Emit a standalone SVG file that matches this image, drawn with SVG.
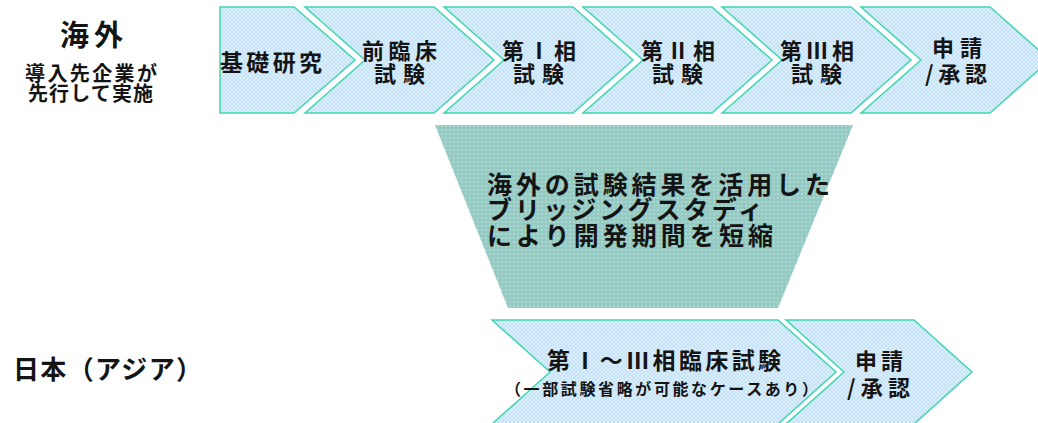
<svg xmlns="http://www.w3.org/2000/svg" width="1038" height="423" viewBox="0 0 1038 423">
<defs>
<pattern id="hatch" width="4" height="4" patternUnits="userSpaceOnUse">
<rect width="4" height="4" fill="#dcefff"/>
<path d="M0,0 L4,4 M4,0 L0,4" stroke="#b3d6f0" stroke-width="0.6"/>
</pattern>
<pattern id="dots" width="4" height="4" patternUnits="userSpaceOnUse">
<rect width="4" height="4" fill="#94c9c4"/>
<circle cx="2" cy="2" r="0.75" fill="#cdeed8"/>
</pattern>
</defs>
<style>
.chev{fill:url(#hatch);stroke:#3fd6b0;stroke-width:1.5}
.trap{fill:url(#dots);stroke:none}
text{font-family:"Noto Sans CJK JP","Noto Sans",sans-serif;font-weight:700;fill:#141414}
.lbl{font-size:22px}
.big{font-size:29px}
.mid{font-size:20px}
.tr{font-size:25px}
.sm{font-size:16px}
.jp{font-size:26px}
.b1{font-size:23px}
</style>
<rect width="1038" height="423" fill="#ffffff"/>
<g id="overseas-label">
<text class="big" x="60" y="46" textLength="63" lengthAdjust="spacing">海外</text>
<text class="mid" x="25" y="81" textLength="132" lengthAdjust="spacing">導入先企業が</text>
<text class="mid" x="28" y="101" textLength="125" lengthAdjust="spacing">先行して実施</text>
</g>
<g id="basic-research">
<polygon class="chev" points="220,7 294,7 355,60 294,113 220,113"/>
<text class="lbl" x="220" y="71" textLength="102" lengthAdjust="spacing" style="font-size:23px">基礎研究</text>
</g>
<g id="preclinical">
<polygon class="chev" points="305,7 434,7 494,60 434,113 305,113 365,60"/>
<text class="lbl" x="362" y="59" textLength="75" lengthAdjust="spacing">前臨床</text>
<text class="lbl" x="374" y="82" textLength="51" lengthAdjust="spacing">試験</text>
</g>
<g id="phase1">
<polygon class="chev" points="444,7 573,7 633,60 573,113 444,113 504,60"/>
<text class="lbl" x="502" y="59" textLength="74" lengthAdjust="spacing">第Ⅰ相</text>
<text class="lbl" x="513" y="82" textLength="51" lengthAdjust="spacing">試験</text>
</g>
<g id="phase2">
<polygon class="chev" points="583,7 712,7 772,60 712,113 583,113 643,60"/>
<text class="lbl" x="641" y="59" textLength="74" lengthAdjust="spacing">第Ⅱ相</text>
<text class="lbl" x="652" y="82" textLength="51" lengthAdjust="spacing">試験</text>
</g>
<g id="phase3">
<polygon class="chev" points="722,7 851,7 911,60 851,113 722,113 782,60"/>
<text class="lbl" x="780" y="59" textLength="74" lengthAdjust="spacing">第Ⅲ相</text>
<text class="lbl" x="791" y="82" textLength="51" lengthAdjust="spacing">試験</text>
</g>
<g id="approval-overseas">
<polygon class="chev" points="861,7 990,7 1050,60 990,113 861,113 921,60"/>
<text class="lbl" x="932" y="56" textLength="50" lengthAdjust="spacing">申請</text>
<text class="lbl" x="925" y="82" textLength="62" lengthAdjust="spacing">/承認</text>
</g>
<g id="bridging">
<polygon class="trap" points="435,125 853,125 778,308 508,308"/>
<text class="tr" x="487" y="194" textLength="343" lengthAdjust="spacing">海外の試験結果を活用した</text>
<text class="tr" x="487" y="219" textLength="276" lengthAdjust="spacing">ブリッジングスタディ</text>
<text class="tr" x="487" y="245" textLength="286" lengthAdjust="spacing">により開発期間を短縮</text>
</g>
<g id="japan-label">
<text class="jp" x="13" y="379" textLength="189" lengthAdjust="spacing">日本（アジア）</text>
</g>
<g id="japan-clinical">
<polygon class="chev" points="492,320 778,320 836,372 778,424 492,424 550,372"/>
<text class="b1" x="547" y="369" textLength="234" lengthAdjust="spacing">第Ⅰ～Ⅲ相臨床試験</text>
<text class="sm" x="505" y="395" textLength="313" lengthAdjust="spacing">（一部試験省略が可能なケースあり）</text>
</g>
<g id="approval-japan">
<polygon class="chev" points="786,320 914,320 972,372 914,424 786,424 844,372"/>
<text class="lbl" x="855" y="369" textLength="48" lengthAdjust="spacing">申請</text>
<text class="lbl" x="847" y="396" textLength="63" lengthAdjust="spacing">/承認</text>
</g>
<g id="connectors"></g>
</svg>
